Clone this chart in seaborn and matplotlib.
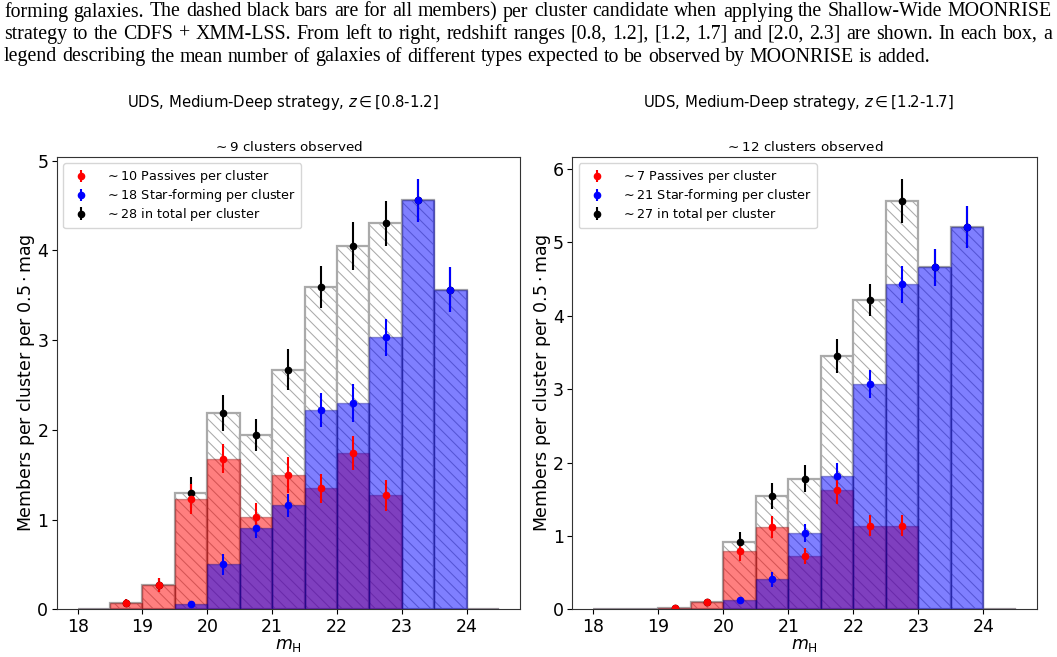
import numpy as np
import matplotlib
matplotlib.use("Agg")
import matplotlib.pyplot as plt
import seaborn as sns

# ---------------- data ----------------
bin_edges = [18.0, 18.5, 19.0, 19.5, 20.0, 20.5, 21.0, 21.5, 22.0, 22.5, 23.0, 23.5, 24.0, 24.5]
bin_centers = [18.25, 18.75, 19.25, 19.75, 20.25, 20.75, 21.25, 21.75, 22.25, 22.75, 23.25, 23.75, 24.25]

# Left panel: z in [0.8-1.2]
left_passive = [0.0, 0.07, 0.27, 1.23, 1.68, 1.03, 1.50, 1.35, 1.74, 1.27, 0.0, 0.0, 0.0]
left_passive_err = [0.0, 0.04, 0.08, 0.17, 0.16, 0.15, 0.20, 0.16, 0.19, 0.17, 0.0, 0.0, 0.0]
left_sf = [0.0, 0.0, 0.0, 0.06, 0.50, 0.91, 1.16, 2.22, 2.30, 3.03, 4.56, 3.56, 0.0]
left_sf_err = [0.0, 0.0, 0.0, 0.02, 0.12, 0.12, 0.13, 0.19, 0.21, 0.21, 0.24, 0.25, 0.0]
left_total = [0.0, 0.07, 0.27, 1.30, 2.19, 1.94, 2.67, 3.59, 4.05, 4.30, 4.56, 3.56, 0.0]
left_total_err = [0.0, 0.04, 0.08, 0.17, 0.20, 0.18, 0.23, 0.23, 0.27, 0.25, 0.24, 0.25, 0.0]

# Right panel: z in [1.2-1.7]
right_passive = [0.0, 0.0, 0.014, 0.105, 0.80, 1.12, 0.73, 1.62, 1.14, 1.14, 0.0, 0.0, 0.0]
right_passive_err = [0.0, 0.0, 0.01, 0.03, 0.14, 0.15, 0.11, 0.19, 0.14, 0.14, 0.0, 0.0, 0.0]
right_sf = [0.0, 0.0, 0.0, 0.0, 0.12, 0.41, 1.04, 1.82, 3.07, 4.43, 4.66, 5.21, 0.0]
right_sf_err = [0.0, 0.0, 0.0, 0.0, 0.03, 0.10, 0.12, 0.17, 0.19, 0.25, 0.25, 0.29, 0.0]
right_total = [0.0, 0.0, 0.014, 0.105, 0.92, 1.54, 1.78, 3.45, 4.21, 5.57, 4.66, 5.21, 0.0]
right_total_err = [0.0, 0.0, 0.01, 0.03, 0.13, 0.18, 0.18, 0.23, 0.22, 0.30, 0.25, 0.29, 0.0]

panel_titles = [r"UDS, Medium-Deep strategy, $z \in$[0.8-1.2]",
                r"UDS, Medium-Deep strategy, $z \in$[1.2-1.7]"]
cluster_titles = [r"$\sim$9 clusters observed", r"$\sim$12 clusters observed"]
legend_labels = [
    [r"$\sim$10 Passives per cluster", r"$\sim$18 Star-forming per cluster", r"$\sim$28 in total per cluster"],
    [r"$\sim$7 Passives per cluster", r"$\sim$21 Star-forming per cluster", r"$\sim$27 in total per cluster"],
]
x_ticks = [18, 19, 20, 21, 22, 23, 24]

caption_lines = [
    "forming galaxies. The dashed black bars are for all members) per cluster candidate when applying the Shallow-Wide MOONRISE",
    "strategy to the CDFS + XMM-LSS. From left to right, redshift ranges [0.8, 1.2], [1.2, 1.7] and [2.0, 2.3] are shown. In each box, a",
    "legend describing the mean number of galaxies of different types expected to be observed by MOONRISE is added.",
]

# ---------------- figure ----------------
W, H = 1057, 657
fig = plt.figure(figsize=(W / 100, H / 100), dpi=100)
fig.patch.set_facecolor("white")

axes_px = [(56.6, 520.0), (572.3, 1037.0)]
ax_top, ax_bot = 157.0, 609.3
axes = []
for (x0, x1) in axes_px:
    ax = fig.add_axes([x0 / W, 1 - ax_bot / H, (x1 - x0) / W, (ax_bot - ax_top) / H])
    axes.append(ax)

panels = [
    (left_passive, left_passive_err, left_sf, left_sf_err, left_total, left_total_err),
    (right_passive, right_passive_err, right_sf, right_sf_err, right_total, right_total_err),
]

for i, (ax, data) in enumerate(zip(axes, panels)):
    pas, pas_e, sf, sf_e, tot, tot_e = data
    # total (hatched)
    sns.histplot(x=bin_centers, weights=tot, bins=bin_edges, ax=ax, stat="count",
                 element="bars", fill=True, facecolor="white",
                 edgecolor="#aaaaaa", linewidth=1.6, hatch="\\\\\\", alpha=1)
    for p in ax.patches:
        if hasattr(p, "set_hatchcolor"):
            p.set_hatchcolor("#444444")
        if hasattr(p, "set_hatch_linewidth"):
            p.set_hatch_linewidth(0.75)
    sns.histplot(x=bin_centers, weights=pas, bins=bin_edges, ax=ax, stat="count",
                 element="bars", color="red", alpha=0.5, edgecolor=(0.5, 0, 0, 0.35), linewidth=1.0)
    sns.histplot(x=bin_centers, weights=sf, bins=bin_edges, ax=ax, stat="count",
                 element="bars", color="blue", alpha=0.5, edgecolor=(0, 0, 0.5, 0.35), linewidth=1.0)

    c = np.array(bin_centers)
    for vals, errs, col, lab in [(tot, tot_e, "k", legend_labels[i][2]),
                                 (sf, sf_e, "b", legend_labels[i][1]),
                                 (pas, pas_e, "r", legend_labels[i][0])]:
        v = np.array(vals)
        e = np.array(errs)
        m = v > 0
        ax.errorbar(c[m], v[m], yerr=e[m], fmt="o", color=col, ms=4.5, elinewidth=1.5,
                    capsize=0, label=lab)

    top = max(np.max(np.array(tot) + np.array(tot_e)), np.max(np.array(sf) + np.array(sf_e)))
    ax.set_ylim(0, top * 1.05)
    ax.set_xlim(17.675, 24.825)
    ax.set_xticks(x_ticks)
    ax.tick_params(labelsize=12.5, pad=2.5)
    ax.set_xlabel(r"$m_{\rm H}$", fontsize=12.5, labelpad=0)
    ax.set_ylabel(r"Members per cluster per $0.5\cdot$mag", fontsize=12.5)
    ax.yaxis.set_label_coords(-0.042, 0.5)
    ax.set_title(cluster_titles[i], fontsize=9.7, pad=4)
    for s in ax.spines.values():
        s.set_color("#333333")

    h, l = ax.get_legend_handles_labels()
    order = [2, 1, 0]
    ax.legend([h[k] for k in order], [l[k] for k in order], loc="upper left",
              fontsize=9.2, handletextpad=0.9, labelspacing=0.15, borderaxespad=0.5)

    cx = ((axes_px[i][0] + axes_px[i][1]) / 2 - 6) / W
    fig.text(cx, 1 - 103 / H, panel_titles[i], ha="center", va="center", fontsize=10.7)

# ---------------- caption (justified) ----------------
renderer = fig.canvas.get_renderer()
probe = fig.text(0, 0, caption_lines[2], family="Liberation Serif", fontsize=12)
nat_w = probe.get_window_extent(renderer).width
probe.remove()
cap_size = 12 * 919.0 / nat_w
cap_font = dict(family="Liberation Serif", fontsize=cap_size)

p1 = fig.text(0, 0, "a a", **cap_font)
p2 = fig.text(0, 0, "aa", **cap_font)
space_w = p1.get_window_extent(renderer).width - p2.get_window_extent(renderer).width
p1.remove()
p2.remove()

baselines = [16.5, 39.0, 61.5]
left_px, right_px = 4.0, 1052.0
for li, line in enumerate(caption_lines):
    words = line.split(" ")
    y = 1 - baselines[li] / H
    texts = [fig.text(0, y, w, va="baseline", ha="left", **cap_font) for w in words]
    widths = [t.get_window_extent(renderer).width for t in texts]
    if li < 2:
        gap = (right_px - left_px - sum(widths)) / (len(words) - 1)
    else:
        gap = space_w
    x = left_px
    for t, wdt in zip(texts, widths):
        t.set_x(x / W)
        x += wdt + gap

fig.savefig("out.png", dpi=100, facecolor="white")
